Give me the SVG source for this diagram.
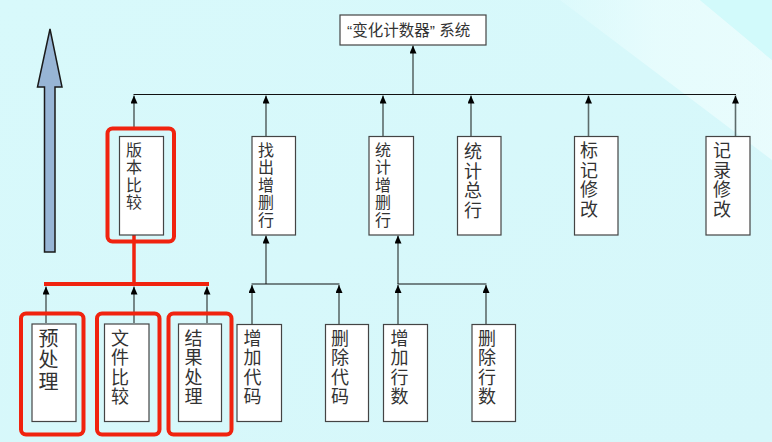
<svg xmlns="http://www.w3.org/2000/svg" width="772" height="442" viewBox="0 0 772 442">
<defs>
<linearGradient id="bg" x1="0" y1="0" x2="1" y2="1">
<stop offset="0" stop-color="#d8f9fb"/>
<stop offset="1" stop-color="#d6f7fa"/>
</linearGradient>
<linearGradient id="band" x1="0" y1="0" x2="1" y2="0">
<stop offset="0" stop-color="#e4fcfd" stop-opacity="0"/>
<stop offset="0.6" stop-color="#effefe" stop-opacity="0.9"/>
<stop offset="1" stop-color="#f0fefe" stop-opacity="1"/>
</linearGradient>
<marker id="ah" markerWidth="8" markerHeight="7" refX="8" refY="3.5" orient="auto" markerUnits="userSpaceOnUse">
<path d="M0,0 L8,3.5 L0,7 z" fill="#000"/>
</marker>
<style>
.box{fill:#fff;stroke:#444;stroke-width:1.2}
.hl{fill:none;stroke:#f0230f;stroke-width:4}
.c{stroke:#5d6b6b;stroke-width:1.6;fill:none}
.h{stroke:#111;stroke-width:1.1;fill:none}
.t{font-family:"Noto Sans CJK SC","Noto Sans",sans-serif;fill:#333}
.v{writing-mode:vertical-rl;text-anchor:start}
.s{font-size:16px;letter-spacing:1.4px}
.m{font-size:18px;letter-spacing:1.5px}
.l{font-size:20px;letter-spacing:1.8px}
</style>
</defs>
<rect width="772" height="442" fill="url(#bg)"/>
<polygon points="480,0 700,0 772,60 772,160 560,0" fill="url(#band)" opacity="0.7"/>
<polygon points="700,0 772,0 772,60" fill="#d2fafb"/>

<polygon points="50,29 62,87 55,87 55,252 44.5,252 44.5,87 37.5,87" fill="#97b5d5" stroke="#1a1a1a" stroke-width="1.5"/>

<g id="connectors">
<line class="c" x1="413" y1="94.5" x2="413" y2="45.5" marker-end="url(#ah)"/>
<line class="h" x1="133.5" y1="94.5" x2="736" y2="94.5"/>
<line class="c" x1="134" y1="128" x2="134" y2="95.5" marker-end="url(#ah)"/>
<line class="c" x1="266" y1="136" x2="266" y2="95.5" marker-end="url(#ah)"/>
<line class="c" x1="383" y1="136" x2="383" y2="95.5" marker-end="url(#ah)"/>
<line class="c" x1="471" y1="136" x2="471" y2="95.5" marker-end="url(#ah)"/>
<line class="c" x1="588.5" y1="136" x2="588.5" y2="95.5" marker-end="url(#ah)"/>
<line class="c" x1="735.5" y1="136" x2="735.5" y2="95.5" marker-end="url(#ah)"/>

<line class="c" x1="266" y1="284" x2="266" y2="235.5" marker-end="url(#ah)"/>
<line class="h" x1="251.5" y1="284" x2="339.5" y2="284"/>
<line class="c" x1="252" y1="324" x2="252" y2="285" marker-end="url(#ah)"/>
<line class="c" x1="339" y1="324" x2="339" y2="285" marker-end="url(#ah)"/>

<line class="c" x1="398" y1="284" x2="398" y2="235.5" marker-end="url(#ah)"/>
<line class="h" x1="397.5" y1="284" x2="486.5" y2="284"/>
<line class="c" x1="398" y1="324" x2="398" y2="285" marker-end="url(#ah)"/>
<line class="c" x1="486" y1="324" x2="486" y2="285" marker-end="url(#ah)"/>

<line class="c" x1="46" y1="323" x2="46" y2="286.5" marker-end="url(#ah)"/>
<line class="c" x1="134" y1="323" x2="134" y2="286.5" marker-end="url(#ah)"/>
<line class="c" x1="207" y1="323" x2="207" y2="286.5" marker-end="url(#ah)"/>
<line x1="134" y1="284" x2="134" y2="226.5" stroke="#000" stroke-width="1" marker-end="url(#ah)"/>
<line x1="134" y1="284" x2="134" y2="233" stroke="#f0230f" stroke-width="3.5"/>
<line x1="44" y1="284" x2="209" y2="284" stroke="#f0230f" stroke-width="4"/>
</g>

<g id="n-root">
<rect class="box" x="340" y="15" width="146" height="30"/>
<text class="t" x="347" y="35.5" font-size="15.5"><tspan font-family="Liberation Sans, sans-serif">“</tspan>变化计数器<tspan font-family="Liberation Sans, sans-serif">” </tspan>系统</text>
</g>

<g id="n-bbbj">
<rect class="box" x="119.5" y="136.5" width="44" height="98.5"/>
<rect class="hl" x="107.5" y="128.5" width="66.5" height="113" rx="5"/>
<text class="t v s" x="134" y="142">版本比较</text>
</g>

<g id="n-zczsh">
<rect class="box" x="252" y="136.5" width="43.5" height="98.5"/>
<text class="t v s" x="266" y="142">找出增删行</text>
</g>

<g id="n-tjzsh">
<rect class="box" x="369" y="136.5" width="44.5" height="98.5"/>
<text class="t v s" x="383" y="142">统计增删行</text>
</g>

<g id="n-tjzh">
<rect class="box" x="457.5" y="136.5" width="43.5" height="98.5"/>
<text class="t v m" x="473" y="142.5">统计总行</text>
</g>

<g id="n-bjxg">
<rect class="box" x="574.5" y="136.5" width="43.5" height="98.5"/>
<text class="t v m" x="589" y="141.5">标记修改</text>
</g>

<g id="n-jlxg">
<rect class="box" x="706" y="136.5" width="44" height="98.5"/>
<text class="t v m" x="722" y="141.5">记录修改</text>
</g>

<g id="n-ycl">
<rect class="box" x="32" y="324" width="44" height="97.5"/>
<rect class="hl" x="21" y="313.5" width="62.5" height="121" rx="5"/>
<text class="t v l" x="48.5" y="328">预处理</text>
</g>

<g id="n-wjbj">
<rect class="box" x="104.5" y="324" width="44.5" height="97.5"/>
<rect class="hl" x="97" y="313.5" width="62.5" height="121" rx="5"/>
<text class="t v m" x="120" y="329">文件比较</text>
</g>

<g id="n-jgcl">
<rect class="box" x="178.5" y="324" width="43" height="97.5"/>
<rect class="hl" x="168.5" y="313.5" width="63" height="121" rx="5"/>
<text class="t v m" x="193.5" y="329">结果处理</text>
</g>

<g id="n-zjdm">
<rect class="box" x="237" y="324.5" width="44.5" height="97"/>
<text class="t v m" x="252.5" y="329">增加代码</text>
</g>

<g id="n-scdm">
<rect class="box" x="325.5" y="324.5" width="43" height="97"/>
<text class="t v m" x="340" y="329">删除代码</text>
</g>

<g id="n-zjhs">
<rect class="box" x="383.5" y="324.5" width="44" height="97"/>
<text class="t v m" x="399.5" y="329">增加行数</text>
</g>

<g id="n-schs">
<rect class="box" x="472" y="324.5" width="43.5" height="97"/>
<text class="t v m" x="487" y="329">删除行数</text>
</g>
</svg>
